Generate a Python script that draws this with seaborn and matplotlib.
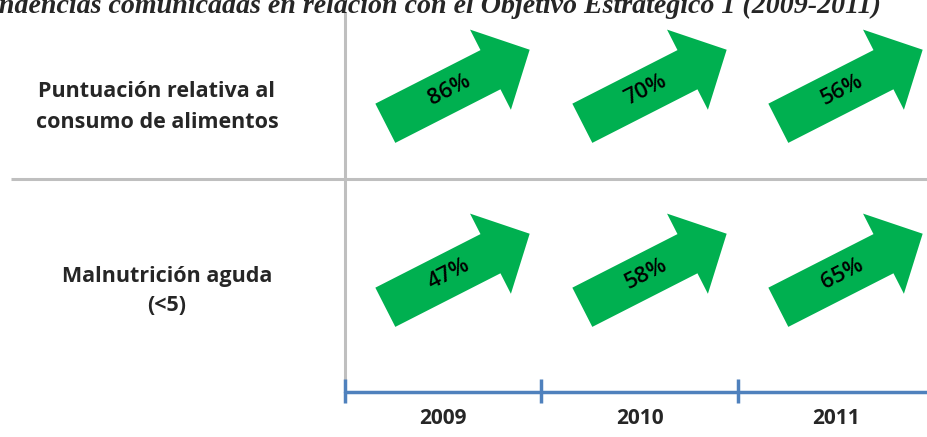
import numpy as np
import pandas as pd
import matplotlib
matplotlib.use("Agg")
import matplotlib.pyplot as plt
from matplotlib.path import Path
from matplotlib.markers import MarkerStyle
import seaborn as sns

# data
years = ["2009", "2010", "2011"]
indicators = ["Puntuación relativa al\nconsumo de alimentos", "Malnutrición aguda\n(<5)"]
food_score = [86, 70, 56]
acute_malnutrition = [47, 58, 65]
title = "Tendencias comunicadas en relación con el Objetivo Estratégico 1 (2009-2011)"

df = pd.DataFrame({
    "year_idx": list(range(len(years))) * 2,
    "row_idx": [0] * len(years) + [1] * len(years),
    "value": food_score + acute_malnutrition,
})

# layout (pixels, figure is 927x437)
W, H = 927, 437
col_left = 345
col_w = 196.5
row_y = [85.5, 270]
label_y = [107, 291]
label_x = [157, 167]
label_spacing = [1.6, 1.45]
arrow_dx = 14
angle = 27
green = "#00B050"
gray = "#BFBFBF"
blue = "#4F81BD"
font = "Open Sans"

df["x"] = col_left + (df["year_idx"] + 0.5) * col_w + arrow_dx
df["y"] = [row_y[r] for r in df["row_idx"]]


def arrow_marker(length=162, shaft=44, head_w=90, head_len=44, deg=27):
    u0 = -length / 2
    ub = length / 2 - head_len
    pts = np.array([
        [u0, -shaft / 2], [ub, -shaft / 2], [ub, -head_w / 2], [length / 2, 0],
        [ub, head_w / 2], [ub, shaft / 2], [u0, shaft / 2], [u0, -shaft / 2],
    ])
    t = np.deg2rad(deg)
    rot = np.array([[np.cos(t), -np.sin(t)], [np.sin(t), np.cos(t)]])
    pts = pts @ rot.T
    r = np.abs(pts).max()
    codes = [Path.MOVETO] + [Path.LINETO] * 6 + [Path.CLOSEPOLY]
    return MarkerStyle(Path(pts, codes)), r


sns.set_style("white")
fig = plt.figure(figsize=(W / 100, H / 100), dpi=100)
ax = fig.add_axes([0, 0, 1, 1])
ax.set_xlim(0, W)
ax.set_ylim(H, 0)
ax.axis("off")

# grid lines
ax.plot([col_left, col_left], [12, 380], color=gray, lw=2.2, solid_capstyle="butt")
ax.plot([11, W], [179, 179], color=gray, lw=2.2, solid_capstyle="butt")

# timeline
tl_y = 392
ax.plot([col_left, col_left + 3 * col_w], [tl_y, tl_y], color=blue, lw=2.5)
for i in range(len(years) + 1):
    xt = col_left + i * col_w
    ax.plot([xt, xt], [379, 403], color=blue, lw=2.5, solid_capstyle="butt")
for i, yr in enumerate(years):
    ax.text(col_left + (i + 0.5) * col_w, 418, yr, ha="center", va="center",
            fontsize=15, fontweight="bold", family=font)

# arrows
marker, r = arrow_marker(deg=angle)
msize = (2 * r * 0.72) ** 2
sns.scatterplot(data=df, x="x", y="y", marker=marker, s=msize, color=green,
                linewidth=0, ax=ax, legend=False)

t = np.deg2rad(angle)
for _, row in df.iterrows():
    tx = row["x"] - 9 * np.cos(t)
    ty = row["y"] + 9 * np.sin(t)
    ax.text(tx, ty, f"{int(row['value'])}%", rotation=angle, rotation_mode="anchor",
            ha="center", va="center", fontsize=16, fontweight="semibold",
            family=font, color="black")

# row labels
for i, lab in enumerate(indicators):
    ax.text(label_x[i], label_y[i], lab, ha="center", va="center", fontsize=15.5,
            fontweight="bold", family=font, linespacing=label_spacing[i])

# title (clipped at top-left like the original)
ax.text(881, 13, title, ha="right", va="baseline", fontsize=20.2,
        fontweight="bold", style="italic", family="Liberation Serif")

fig.savefig("out.png", dpi=100)
